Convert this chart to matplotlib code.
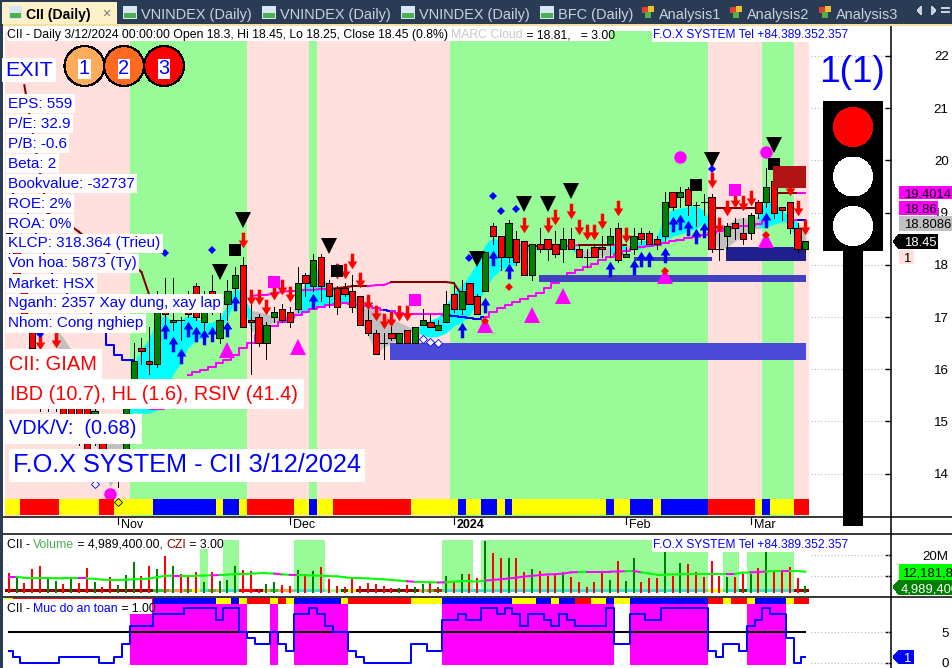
import numpy as np
import matplotlib
matplotlib.use("Agg")
import matplotlib.pyplot as plt
from matplotlib.path import Path
from matplotlib.patches import Rectangle, Circle, Polygon

plt.rcParams['font.family'] = ['Liberation Sans', 'DejaVu Sans']
plt.rcParams['patch.antialiased'] = False

# daily bars
opens = [18.6,18.45,17.7,16.75,16.35,15.7,15.3,15.5,15.4,15.3,
         15.4,14.65,14.65,14.0,13.85,13.85,15.5,16.4,16.15,16.1,
         17.15,16.9,16.95,17.1,17.6,16.9,17.5,16.6,17.25,17.55,
         18.0,16.95,17.0,16.5,17.0,17.15,17.1,17.15,17.8,17.6,
         18.15,17.65,17.55,17.55,17.5,17.4,16.95,16.7,16.5,16.7,
         16.5,16.75,16.5,16.85,16.9,16.75,16.9,17.45,17.15,17.65,
         17.4,17.5,18.75,18.55,18.15,18.5,18.45,17.8,18.4,18.5,
         18.4,18.3,18.5,18.3,18.15,18.35,18.35,18.4,18.7,18.15,
         18.3,18.6,18.6,18.5,18.55,19.4,19.3,19.45,19.15,19.2,
         19.3,18.3,18.55,18.8,18.6,18.6,19.2,19.2,19.6,19.1,
         19.2,18.7,18.3]
highs = [18.65,18.55,17.75,16.9,16.45,15.8,15.6,15.6,15.5,15.4,
         15.5,15.3,14.75,14.1,14.05,15.5,16.5,16.6,16.8,17.5,
         17.75,17.75,17.0,17.5,17.65,17.5,17.8,17.15,17.7,17.95,
         18.15,17.45,17.05,16.9,17.2,17.25,17.2,17.95,17.85,18.2,
         18.2,17.7,17.6,17.65,17.8,17.4,17.25,16.75,16.7,16.8,
         16.7,16.75,16.8,17.15,17.05,16.95,17.5,17.6,17.7,17.65,
         17.45,18.25,18.8,18.55,18.85,18.65,18.45,18.4,18.7,18.5,
         18.65,18.7,18.7,18.4,18.3,18.4,18.55,18.7,18.8,18.35,
         18.7,18.7,18.65,18.55,19.4,19.4,19.5,19.5,19.2,19.35,
         19.35,18.6,18.8,18.9,18.9,19.0,19.25,19.85,19.6,19.1,
         19.2,18.8,18.45]
lows = [18.2,17.55,16.85,16.35,15.2,15.2,15.2,14.75,14.85,14.55,
        14.35,14.55,13.95,13.85,13.75,13.85,15.45,16.1,15.9,16.05,
        16.75,16.75,16.55,17.0,16.95,16.75,17.05,16.5,16.95,17.4,
        16.8,15.9,16.45,16.2,16.9,16.9,16.8,17.1,17.4,17.5,
        17.3,17.2,17.05,17.4,17.1,16.85,16.65,16.3,16.2,16.55,
        16.5,16.5,16.5,16.85,16.8,16.75,16.9,17.1,17.05,17.25,
        17.05,17.5,18.4,17.9,18.05,18.0,17.8,17.7,18.25,18.1,
        18.15,18.05,18.3,18.15,17.95,18.15,18.15,18.15,18.05,18.15,
        18.2,18.4,18.4,18.3,18.45,19.05,19.1,18.95,18.75,18.95,
        18.25,18.1,18.3,18.5,18.4,18.5,18.9,19.1,18.9,18.85,
        18.6,18.25,18.25]
closes = [18.25,17.6,16.95,16.4,15.25,15.3,15.5,14.85,14.95,14.65,
          14.45,15.2,14.05,13.95,13.85,15.35,16.15,16.35,16.1,17.25,
          17.05,16.95,16.95,17.05,17.0,17.15,17.1,16.95,17.5,17.8,
          16.8,16.9,16.5,16.85,17.1,16.95,16.9,17.65,17.65,18.1,
          17.6,17.4,17.2,17.45,17.2,16.85,16.7,16.3,16.5,16.6,
          16.7,16.5,16.8,16.95,16.8,16.85,17.25,17.15,17.5,17.25,
          17.05,18.25,18.55,18.15,18.8,18.05,17.8,18.4,18.3,18.3,
          18.2,18.5,18.3,18.15,18.15,18.15,18.3,18.55,18.1,18.2,
          18.55,18.5,18.4,18.4,19.2,19.1,19.4,19.15,19.15,19.2,
          18.3,18.3,18.75,18.7,18.5,18.95,19.0,19.5,19.0,19.05,
          18.7,18.3,18.45]

# cloud edges, one value per bar
n = np.nan
cloud_top = [n,n,n,n,n,n,16.79,16.6,16.37,16.02,
             15.7,15.31,15.03,14.74,14.55,15.41,16.12,16.37,16.6,16.94,
             17.04,16.9,16.94,17.04,16.98,16.88,16.9,16.98,17.23,17.6,
             17.39,17.13,17.1,17.06,17.02,17.02,17.02,17.27,17.71,18.04,
             17.77,17.61,17.52,17.46,17.4,17.38,17.29,17.17,17.06,16.98,
             16.9,16.83,16.77,16.85,16.94,17.0,17.23,17.48,17.61,17.8,
             18.05,18.38,18.53,18.42,18.42,18.42,18.4,18.36,18.36,18.34,
             18.34,18.36,18.38,18.28,18.28,18.28,18.28,18.34,18.42,18.36,
             18.42,18.47,18.47,18.51,19.01,19.05,19.09,19.11,19.13,19.05,
             18.76,18.7,18.78,18.88,18.91,18.88,18.95,19.28,19.18,19.05,
             18.9,18.82,18.57]
cloud_bot = [n,n,n,n,n,n,16.46,16.18,15.79,15.41,
             15.03,14.64,14.16,13.74,14.07,14.93,15.18,15.16,15.16,15.22,
             15.41,15.89,16.12,16.42,16.56,16.61,16.69,16.75,16.98,17.33,
             17.27,16.75,16.63,16.84,16.9,16.9,16.9,17.04,17.1,17.19,
             17.19,17.23,17.25,17.27,17.27,16.94,16.65,16.31,16.42,16.5,
             16.6,16.67,16.73,16.65,16.61,16.63,16.69,16.83,16.9,17.04,
             17.29,17.52,17.77,17.9,17.98,18.0,18.23,18.27,18.3,18.32,
             18.32,18.3,18.3,18.17,18.15,18.17,18.19,18.21,18.25,18.25,
             18.28,18.32,18.34,18.38,18.47,18.55,18.59,18.65,18.68,18.82,
             18.47,18.28,18.34,18.45,18.55,18.67,18.7,18.72,18.78,18.82,
             18.82,18.34,18.38]
# (first bar, last bar, kind)
cloud_runs = [(6,14,'g'),(15,30,'c'),(31,36,'g'),(37,43,'c'),(44,51,'g'),(52,72,'c'),
              (73,76,'g'),(77,78,'c'),(79,79,'g'),(80,89,'c'),(90,95,'g'),(96,100,'c'),(101,102,'g')]

trail_line = [19.39,19.24,19.01,18.63,18.28,18.0,17.71,17.48,17.33,17.2,
              17.1,16.75,16.71,16.46,16.27,16.18,16.18]
lower_line = [n,n,n,n,n,n,n,n,n,n,n,n,n,n,n,n,n,n,n,n,n,n,n,
              15.89,15.95,15.98,16.04,16.12,16.18,16.27,16.4,
              16.5,16.65,16.73,16.83,16.9,16.98,17.04,17.1,17.15,17.19,
              17.23,17.25,17.27,17.25,17.23,17.21,17.17,17.13,17.11,17.07,
              17.06,17.06,17.06,17.06,17.06,17.04,17.02,17.0,16.98,16.96,
              17.0,17.1,17.17,17.23,17.29,17.35,17.4,17.46,17.55,17.65,
              17.77,17.84,17.9,17.96,18.01,18.09,18.15,18.21,18.26,18.3,
              18.34,18.36,18.38,18.42,18.45,18.47,18.51,18.53,18.57,18.61,
              18.65,18.68,18.72,18.74,18.74,18.78,18.84,n,n,18.86,18.86,18.86]
lower_blue = [48,56,57,58,59,60,97,101]
upper_line = [n,n,21.44,20.58,19.77,18.99,18.9,18.82,18.74,18.63,
              18.51,18.4,18.28,18.19,18.09,18.05,18.0,17.86,17.42,n,
              n,n,n,n,n,n,n,n,n,n,
              n,17.4,17.42,17.42,17.46,17.48,17.5,17.5,17.52,17.52,
              17.54,17.54,17.55,17.57,17.59,17.59,17.59,17.61,17.61,17.67,
              17.67,17.67,17.67,17.67,17.67,17.67,17.67,17.65,17.42,n,
              n,n,n,n,n,n,18.36,18.36,18.36,18.36,
              18.36,18.36,18.36,18.38,18.38,18.38,18.38,18.38,18.38,18.38,
              n,n,n,n,n,n,n,n,n,n,
              19.09,19.09,19.09,19.09,19.09,19.09,19.09,n,19.37,19.37,
              19.37,19.37,19.37]
upper_dark = list(range(2,18)) + [41,42,43,44,45] + list(range(49,58)) + [66,67,73,74,75,76,78,79] \
    + list(range(90,96)) + [98,99,100]

# support and resistance zones (first bar, last bar, low, high, colour)
zones = [(48.8,102.1,16.17,16.5,'#4A4AD8'),
         (67.9,102.1,17.67,17.8,'#4040C0'),
         (80.0,90.05,18.07,18.15,'#3838C0'),
         (91.85,102.1,18.07,18.34,'#1F1F8F')]
top_zone = (97.9,102.1,19.47,19.9,'#B01414')

# signal marks, bar index and price
black_tri_x = [30,27,41,60,66,69,72,90,98]
black_tri_y = [18.86,17.86,18.36,18.11,19.16,19.16,19.41,20.0,20.29]
pink_tri_x = [28,37,61,67,71,84,97,19]
pink_tri_y = [16.37,16.42,16.85,17.04,17.4,17.78,18.47,15.37]
black_sq_x = [29,42,88,98]
black_sq_y = [18.28,17.88,19.53,19.93]
pink_sq_x = [34,52,93]
pink_sq_y = [17.67,17.33,19.43]
pink_dot_x = [13,86,97]
pink_dot_y = [13.61,20.06,20.16]
blue_dia_x = [20,26,4,59,62,63,65,90]
blue_dia_y = [18.22,18.28,16.67,18.13,19.32,19.03,19.07,19.83]
red_dia_x = [64,84,97,61]
red_dia_y = [17.57,17.88,18.57,16.92]
open_dia_x = [11,53,54,55]
open_dia_y = [13.8,16.57,16.52,16.5]
yellow_dia_x = [14]
yellow_dia_y = [13.45]
up_x = [20,21,22,23,24,25,26,28,29,39,58,61,62,64,77,80,81,82,84,85,86,87,88,89,97]
up_y = [16.73,16.48,16.25,16.77,16.67,16.61,16.67,16.77,17.27,17.31,16.75,17.23,18.13,17.88,
        17.92,17.96,18.11,18.11,18.18,18.78,18.82,18.7,18.55,18.67,18.86]
down_x = [4,6,30,31,32,33,34,35,36,42,43,44,45,46,47,48,49,50,51,66,69,70,72,73,74,75,76,78,79,
          90,91,92,93,94,95,100,101,102]
down_y = [16.52,16.56,18.47,17.38,17.38,17.19,17.48,17.57,17.44,17.88,17.88,18.07,17.71,17.29,
          17.08,16.92,16.96,17.08,17.08,18.76,18.76,18.91,19.03,18.72,18.63,18.63,18.84,19.09,18.57,
          19.62,18.76,19.09,19.24,19.18,19.28,19.47,19.09,18.72]

# colour runs, per bar (colour, number of bars)
regime_runs = [('p',16),('g',15),('p',8),('g',1),('p',17),('g',33),('p',7),('g',4),('p',2)]
strip_runs = [('y',2),('r',5),('y',5),('r',2),('y',5),('b',8),('y',1),('b',2),('y',1),('r',6),('y',2),
              ('b',1),('y',2),('r',10),('y',6),('b',1),('y',2),('b',2),('y',1),('b',1),('y',12),('b',1),
              ('y',2),('b',3),('y',1),('b',6),('r',6),('y',1),('b',1),('y',3),('r',2)]
vol_strip_runs = [('D',19),('L',2),('S',2),('L',1),('Y',1),('T',1),('L',1),('S',1),('T',2),('R',2),('D',1),
                  ('S',1),('L',1),('S',2),('T',4),('P',2),('K',1),('Y',1),('D',8),('S',1),('L',1),('R',1),
                  ('T',34),('Y',2),('T',2),('K',1),('T',6),('D',2)]
safety_strip_runs = [('y',1),('r',18),('b',8),('y',2),('b',1),('y',1),('r',3),('y',1),('r',1),('y',1),('b',6),
                     ('y',1),('r',8),('y',4),('b',9),('y',3),('b',2),('y',1),('b',2),('r',2),('y',2),('b',1),
                     ('y',2),('b',10),('r',2),('y',1),('r',2),('y',1),('b',4),('y',1),('r',2)]

# volume panel, millions
volume = [11.1,9.8,6.4,13.0,14.5,9.0,7.5,5.9,9.0,6.4,
          13.4,6.7,4.4,9.0,5.4,10.1,16.4,9.8,14.2,13.0,
          19.2,14.5,10.6,9.8,11.4,7.0,11.4,7.5,8.0,14.5,
          12.5,12.2,3.5,5.9,6.7,5.4,4.8,12.5,10.6,12.2,
          13.7,8.3,5.1,4.4,8.7,4.8,6.4,5.9,4.8,4.2,
          4.2,5.4,4.4,5.9,6.4,4.4,9.5,6.7,10.6,10.6,
          8.7,26.1,20.5,18.1,18.1,18.1,11.4,13.0,11.9,9.8,
          10.6,11.4,9.4,7.0,4.7,7.0,11.1,8.0,16.9,7.5,
          18.1,6.7,8.7,8.7,22.3,9.8,15.8,15.3,11.7,9.4,
          16.9,9.8,9.2,9.4,10.6,10.6,13.4,22.3,11.7,11.4,
          13.7,8.7,4.99]
volume_side = "rgrrrggrgr" "rgrrgggrrg" "rgrrrgrggg" "rrrggrrgrg" "rrrrrrrrrr" \
              "grggrggrgr" "rgrrgrrgrr" "rgrrrrrgrg" "grrrgrgrrr" "rrgrrgrgrr" "rrg"
volume_ma = [9.8,9.8,9.3,9.2,9.2,9.2,9.1,9.0,9.0,9.0,
             9.0,8.8,8.4,8.3,8.3,8.4,8.6,8.7,9.0,9.6,
             10.2,10.3,10.3,10.3,10.3,10.4,10.5,10.6,10.8,11.0,
             11.0,11.3,11.4,11.4,11.3,10.9,10.7,10.6,10.5,10.4,
             10.3,10.1,10.0,9.6,9.2,9.2,9.0,8.8,8.6,8.3,
             8.0,7.7,7.4,7.3,7.2,7.1,7.2,7.5,7.7,7.7,
             7.5,8.0,8.3,8.6,9.0,9.4,9.9,10.2,10.6,10.9,
             11.0,11.3,11.9,12.0,12.2,12.2,12.2,12.2,12.3,12.4,
             12.5,11.9,11.3,10.8,10.8,10.9,11.0,11.2,11.2,11.2,
             11.2,11.2,11.2,11.2,11.7,11.9,12.0,12.3,12.5,12.5,
             12.5,12.5,12.18]
ma_pink = [0,9,21,26,34,36,51,55] + list(range(61,73)) + [74,75,76,77,78,80,92,95,96,99]
czi_bars = [25,28,29,37,38,39,40,56,57,58,59] + list(range(61,90)) + [92,93,95,96,97,98,99,100]

# safety level panel
safety_level = [2,1,0,0,0,0,0,1,1,1,
                1,1,0,0,1,3,6,6,6,8,
                8,8,8,9,9,9,9,7,9,9,
                5,4,3,3,5,3,2,8,8,9,
                8,6,5,5,2,1,0,0,0,0,
                0,0,3,3,2,2,7,7,8,7,
                7,9,9,8,9,8,6,8,8,7,
                6,8,7,6,6,6,6,9,3,3,
                8,8,7,7,9,9,9,9,9,9,
                2,1,3,3,2,6,7,9,8,8,
                4,0,1]

price_ticks = [14,15,16,17,18,19,20,21,22]
month_pos = [14,36,57,79,95]
month_names = ['Nov','Dec','2024','Feb','Mar']

fund_lines = ['EPS: 559','P/E: 32.9','P/B: -0.6','Beta: 2','Bookvalue: -32737','ROE: 2%','ROA: 0%',
              'KLCP: 318.364 (Trieu)','Von hoa: 5873 (Ty)','Market: HSX','Nganh: 2357 Xay dung, xay lap',
              'Nhom: Cong nghiep']

colors = {'p':'#FFE0DC','g':'#98FB98'}
strip_colors = {'y':'#FFFF00','r':'#FF0000','b':'#0000FF'}
vol_strip_colors = {'D':'#8B0000','L':'#32CD32','S':'#F4A460','Y':'#FFFF00','T':'#40E0D0','R':'#FF0000',
                    'P':'#98FB98','K':'#006400'}

W, H = 952, 668
PT = 0.72
PLOT_L, PLOT_R = 3, 891
LINE = 1.45
x = np.arange(len(closes))


def expand(runs):
    out = []
    for c, k in runs:
        out += [c]*k
    return out


def panel(top, bottom, y_top, y_bot):
    a = fig.add_axes([PLOT_L/W, 1-bottom/H, (PLOT_R-PLOT_L)/W, (bottom-top)/H])
    a.set_xlim(-0.73, 112.97)
    a.set_ylim(y_bot, y_top)
    for s in ['top','left','bottom','right']:
        a.spines[s].set_visible(False)
    a.yaxis.tick_right()
    a.set_xticks([])
    a.tick_params(axis='y', direction='in', length=4, width=1, pad=41.5, labelsize=9.6)
    return a


def right_labels(a):
    for t in a.get_yticklabels():
        t.set_ha('right')
        t.set_va('center_baseline')


fig = plt.figure(figsize=(W/100, H/100), dpi=100, facecolor='white')

# ---- price panel
ax = panel(24, 516, 22.613, 13.188)
regime = expand(regime_runs)
for i, c in enumerate(regime):
    ax.fill_between([i-0.5, i+0.5], 13.188, 22.48, color=colors[c], lw=0, zorder=0)
for i, c in enumerate(expand(strip_runs)):
    ax.bar(i, 16/492, bottom=1/492, width=1, color=strip_colors[c], transform=ax.get_xaxis_transform(), zorder=6)
ax.hlines(price_ticks, 102.7, 112.97, colors='#B8B8B8', linestyles=(0, (1, 2)), lw=0.8, zorder=1)

ct = np.array(cloud_top)
cb = np.array(cloud_bot)
for a0, a1, kind in cloud_runs:
    end = min(a1+1, len(x)-1)
    ax.fill_between(x[a0:end+1], ct[a0:end+1], cb[a0:end+1], color='#00FFFF' if kind == 'c' else '#C0C0C0',
                    lw=0, zorder=1)

for i in range(len(trail_line)-1):
    ax.plot([i, i+1], trail_line[i:i+2], color='#0000FF', lw=LINE, drawstyle='steps-mid', zorder=2)
for i in range(len(lower_line)-1):
    if not np.isnan(lower_line[i]) and not np.isnan(lower_line[i+1]):
        c = '#0000FF' if i in lower_blue else '#FF00FF'
        ax.plot([i, i+1], lower_line[i:i+2], color=c, lw=LINE, drawstyle='steps-mid', zorder=2)
for i in range(len(upper_line)-1):
    if not np.isnan(upper_line[i]) and not np.isnan(upper_line[i+1]):
        c = '#800000' if i in upper_dark else '#FF00FF'
        ax.plot([i, i+1], upper_line[i:i+2], color=c, lw=LINE, zorder=2)

for a0, a1, lo, hi, c in zones:
    ax.fill_between([a0, a1], lo, hi, color=c, lw=0, zorder=3)

for i in x:
    o, h, l, c = opens[i], highs[i], lows[i], closes[i]
    ax.plot([i, i], [l, h], color='black', lw=0.72, zorder=4)
    if o == c:
        ax.plot([i-0.4, i+0.4], [o, o], color='black', lw=0.72, zorder=4)
    else:
        col = '#008000' if c > o else '#FF0000'
        ax.add_patch(Rectangle((i-0.4, min(o, c)), 0.8, abs(o-c), facecolor=col, edgecolor='black', lw=0.6,
                               zorder=4.2))

up_arrow = Path([(0,1),(0.62,0),(0.22,0),(0.22,-1),(-0.22,-1),(-0.22,0),(-0.62,0),(0,1)], closed=True)
down_arrow = Path([(0,-1),(0.62,0),(0.22,0),(0.22,1),(-0.22,1),(-0.22,0),(-0.62,0),(0,-1)], closed=True)
ax.plot(up_x, up_y, ls='none', marker=up_arrow, ms=11.2, color='#0000FF', mew=0, zorder=5)
ax.plot(down_x, down_y, ls='none', marker=down_arrow, ms=11.2, color='#FF0000', mew=0, zorder=5)
ax.plot(black_sq_x, black_sq_y, ls='none', marker='s', ms=8.8, color='black', mew=0, zorder=5)
ax.plot(pink_sq_x, pink_sq_y, ls='none', marker='s', ms=8.8, color='#FF00FF', mew=0, zorder=5)
ax.plot(pink_dot_x, pink_dot_y, ls='none', marker='o', ms=9, color='#FF00FF', mew=0, zorder=5)
ax.plot(black_tri_x, black_tri_y, ls='none', marker='v', ms=11.6, color='black', mew=0, zorder=5)
ax.plot(pink_tri_x, pink_tri_y, ls='none', marker='^', ms=11.6, color='#FF00FF', mew=0, zorder=5)
ax.plot(blue_dia_x, blue_dia_y, ls='none', marker='D', ms=3.8, color='#0000FF', mew=0, zorder=5)
ax.plot(red_dia_x, red_dia_y, ls='none', marker='D', ms=3.8, color='#FF0000', mew=0, zorder=5)
ax.plot(open_dia_x, open_dia_y, ls='none', marker='D', ms=3.6, mfc='white', mec='#0000FF', mew=0.6, zorder=5)
ax.plot(yellow_dia_x, yellow_dia_y, ls='none', marker='D', ms=3.6, mfc='#FFFF00', mec='black', mew=0.6, zorder=7)
ax.fill_between(top_zone[:2], top_zone[2], top_zone[3], color=top_zone[4], lw=0, zorder=5.5)

ax.set_yticks(price_ticks)
ax.set_yticklabels([str(v) for v in price_ticks])
right_labels(ax)
ax.set_xticks(month_pos)
ax.set_xticklabels([])
ax.tick_params(axis='x', bottom=False, top=False)

# ---- volume panel
ax2 = panel(534, 597, 29.9, 0.28)
ax2.bar(czi_bars, 27-2.63, bottom=2.63, width=1, color='#98FB98', lw=0, zorder=0)
for i, c in enumerate(expand(vol_strip_runs)):
    ax2.bar(i, 4.0-2.63, bottom=2.63, width=1, color=vol_strip_colors[c], lw=0, zorder=1)
for i in x:
    ax2.plot([i, i], [2.63, volume[i]], color='#FF0000' if volume_side[i] == 'r' else '#008000', lw=1.45, zorder=2)
for i in range(len(volume_ma)-1):
    ax2.plot([i, i+1], volume_ma[i:i+2], color='#FF00FF' if i in ma_pink else '#00FF00', lw=LINE, zorder=3)
ax2.hlines([10, 20], 102.7, 112.97, colors='#B8B8B8', linestyles=(0, (1, 2)), lw=0.8)
ax2.set_yticks([10, 20])
ax2.set_yticklabels(['', '20M'])
right_labels(ax2)

# ---- safety panel
ax3 = panel(598, 668, 10.64, -0.87)
for i, v in enumerate(safety_level):
    if v >= 5:
        ax3.bar(i, 9.65+0.38, bottom=-0.38, width=1, color='#FF00FF', lw=0, zorder=0)
for i, c in enumerate(expand(safety_strip_runs)):
    ax3.bar(i, 10.6-9.65, bottom=9.65, width=1, color=strip_colors[c], lw=0, zorder=1)
ax3.plot([0, 102], [5, 5], color='black', lw=LINE, zorder=2)
ax3.plot(x, safety_level, color='#0000FF', lw=LINE, drawstyle='steps-mid', zorder=3)
ax3.hlines([0, 5], 102.7, 112.97, colors='#B8B8B8', linestyles=(0, (1, 2)), lw=0.8)
ax3.set_yticks([0, 5])
ax3.set_yticklabels(['0', '5'])
right_labels(ax3)

# ---- everything drawn in screen pixels on top
ov = fig.add_axes([0, 0, 1, 1], zorder=20)
ov.set_xlim(0, W)
ov.set_ylim(H, 0)
ov.axis('off')
ov.patch.set_alpha(0)


def box(x0, y0, x1, y1, c, z=1):
    ov.add_patch(Rectangle((x0, y0), x1-x0, y1-y0, facecolor=c, edgecolor='none', zorder=z))


def lab(px, py, s, c='#0000FF', size=16, bg='white', weight='normal', pad=1.5, ha='left', z=5):
    kw = {}
    if bg:
        kw['bbox'] = dict(facecolor=bg, edgecolor='none', pad=pad, antialiased=False)
    ov.text(px, py, s, color=c, fontsize=size*PT, ha=ha, va='center_baseline', fontweight=weight, zorder=z, **kw)


def multi(px, py, parts, size):
    r = fig.canvas.get_renderer()
    probe = ov.text(0, 0, '.', fontsize=size*PT)
    dot = probe.get_window_extent(r).width
    pos = px
    for s, c in parts:
        ov.text(pos, py, s, color=c, fontsize=size*PT, ha='left', va='center_baseline', zorder=6)
        probe.set_text(s+'.')
        pos += probe.get_window_extent(r).width-dot
    probe.remove()


# frame lines
for yy in [516.5, 533.5, 597]:
    ov.plot([0, W], [yy, yy], color='black', lw=1.1, zorder=2)
ov.plot([891.3, 891.3], [26, H], color='black', lw=1.1, zorder=2)

# tabs
box(0, 0, W, 24, '#2A3B55', 3)
box(0, 24, W, 26, '#F8DFA0', 3)
box(0, 24, 3, H, '#2A3B55', 3)
box(2, 2, 117, 24, '#FDF1C8', 4)
tab_x = [123, 262, 401, 540]
tab_names = ['VNINDEX (Daily)', 'VNINDEX (Daily)', 'VNINDEX (Daily)', 'BFC (Daily)']
box(9, 6, 22, 19, '#D8E6F4', 5)
box(10, 13, 21, 18, '#4CAF50', 6)
ov.text(26, 13, 'CII (Daily)', fontsize=14*PT, fontweight='bold', color='black', va='center_baseline', zorder=6)
ov.text(106, 12, '\u00d7', fontsize=14*PT, color='#777777', ha='center', va='center_baseline', zorder=6)
for tx, name in zip(tab_x, tab_names):
    box(tx, 6, tx+14, 19, '#D8E6F4', 5)
    box(tx+1, 13, tx+13, 18, '#4CAF50', 6)
    ov.text(tx+18, 13, name, fontsize=14.5*PT, color='#C9D3DE', va='center_baseline', zorder=6)
for tx, name in zip([642, 730, 819], ['Analysis1', 'Analysis2', 'Analysis3']):
    box(tx, 7, tx+6, 13, '#E04030', 5)
    box(tx+6, 6, tx+12, 12, '#F0C030', 5)
    box(tx+3, 12, tx+9, 18, '#50B040', 5)
    ov.text(tx+17, 13, name, fontsize=14.5*PT, color='#C9D3DE', va='center_baseline', zorder=6)
ov.add_patch(Polygon([(922, 6), (922, 15), (917, 10.5)], facecolor='#C9D3DE', zorder=6))
ov.add_patch(Polygon([(931, 6), (931, 15), (936, 10.5)], facecolor='#C9D3DE', zorder=6))
box(941, 7, 950, 9, '#C9D3DE', 6)
box(941, 11, 950, 13, '#C9D3DE', 6)

# header strings
box(7, 27, 610, 41, 'white', 4)
multi(7, 33.5, [('CII - Daily 3/12/2024 00:00:00 Open 18.3, Hi 18.45, Lo 18.25, Close 18.45 (0.8%) ', 'black'),
                ('MARC Cloud', '#C8C8C8'), (' = 18.81,   = 3.00', 'black')], 12.2)
lab(653, 33.5, 'F.O.X SYSTEM Tel +84.389.352.357', size=12, pad=1)
box(7, 537, 220, 549, 'white', 4)
multi(7, 543, [('CII - ', 'black'), ('Volume', '#4CAF50'), (' = 4,989,400.00, ', 'black'), ('CZI', '#8B0000'),
               (' = 3.00', 'black')], 12.2)
lab(653, 543, 'F.O.X SYSTEM Tel +84.389.352.357', size=12, pad=1)
box(4, 599, 152, 614, 'white', 4)
multi(7, 607, [('CII - ', 'black'), ('Muc do an toan', '#0000FF'), (' = 1.00', 'black')], 12.2)

# left info block
lab(5, 68, 'EXIT', size=21.5, pad=2)
for cx, c, d in zip([84.5, 124, 164], ['#FFAB5C', '#FF6A21', '#FF0000'], ['1', '2', '3']):
    ov.add_patch(Circle((cx, 66), 20, facecolor=c, edgecolor='black', lw=0.8, zorder=4))
    lab(cx, 67, d, size=20, pad=0.5, ha='center')
for i, s in enumerate(fund_lines):
    lab(8, 102+20*i, s, size=15.3, pad=1.8)
lab(9, 362, 'CII: GIAM', c='#FF0000', size=20, pad=4)
lab(10, 392, 'IBD (10.7), HL (1.6), RSIV (41.4)', c='#FF0000', size=19.9, pad=4)
lab(9, 427, 'VDK/V:  (0.68)', size=19.9, pad=4)
lab(13, 463, 'F.O.X SYSTEM - CII 3/12/2024', size=25.3, pad=3)

# month labels
for m, name in zip(month_pos, month_names):
    mx = PLOT_L+(m+0.73)*(PLOT_R-PLOT_L)/(112.97+0.73)
    ov.plot([mx, mx], [517, 524], color='black', lw=0.8, zorder=4)
    ov.text(mx+3, 524, name, fontsize=12.5*PT, color='black', fontweight='bold' if name == '2024' else 'normal',
            va='center_baseline', zorder=4)

# traffic light
lab(852.5, 68, '1(1)', size=37, bg=None, ha='center')
box(843, 251, 863, 526, 'black', 4)
box(823, 101, 883, 251, 'black', 4)
for cy, c in zip([127, 176.5, 226], ['#FF0000', 'white', 'white']):
    ov.add_patch(Circle((853, cy), 19.5, facecolor=c, edgecolor='none', zorder=5))

# value tags on the right
box(899, 186, W, 199, '#FF00FF', 6)
ov.text(904, 193, '19.4014', fontsize=13*PT, color='black', va='center_baseline', zorder=7)
box(899, 201, 938, 215, '#FF00FF', 6)
ov.text(904, 208.5, '18.86', fontsize=13*PT, color='black', va='center_baseline', zorder=7)
box(899, 216, W, 231, '#C0C0C0', 6)
ov.text(904, 223.5, '18.8086', fontsize=13*PT, color='black', va='center_baseline', zorder=7)
ov.add_patch(Polygon([(893, 241.5), (899, 234), (938, 234), (938, 249), (899, 249)], facecolor='black', zorder=6))
ov.text(904, 241.5, '18.45', fontsize=13*PT, color='white', va='center_baseline', zorder=7)
box(899, 250, 914, 264, '#FFE0DC', 6)
ov.text(903, 257, '1', fontsize=13*PT, color='black', va='center_baseline', zorder=7)
box(899, 564, W, 580, '#00FF00', 6)
ov.text(902, 572, '12,181,800', fontsize=13*PT, color='black', va='center_baseline', zorder=7)
ov.add_patch(Polygon([(893, 587), (899, 580), (W, 580), (W, 595), (899, 595)], facecolor='#008000', zorder=6))
ov.text(901, 587.5, '4,989,400', fontsize=13*PT, color='white', va='center_baseline', zorder=7)
ov.add_patch(Polygon([(893, 657), (899, 650), (914, 650), (914, 664), (899, 664)], facecolor='#0000FF', zorder=6))
ov.text(903, 657, '1', fontsize=13*PT, color='white', va='center_baseline', zorder=7)

fig.savefig('out.png', dpi=100)
